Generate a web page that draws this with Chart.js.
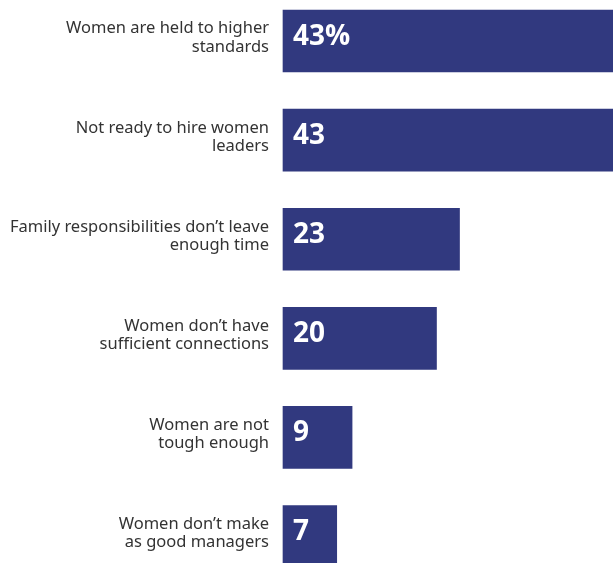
<!DOCTYPE html>
<html>
<head>
<meta charset="utf-8">
<script src="https://cdn.jsdelivr.net/npm/chart.js@4.4.1/dist/chart.umd.min.js"></script>
<style>
  html, body { margin: 0; padding: 0; background: #fff; overflow: hidden; }
  #wrap { position: relative; width: 613px; height: 569px; }
</style>
</head>
<body>
<div id="wrap"><canvas id="chart"></canvas></div>
<script>
const categories = [
  ['Women are held to higher', 'standards'],
  ['Not ready to hire women', 'leaders'],
  ['Family responsibilities don\u2019t leave', 'enough time'],
  ['Women don\u2019t have', 'sufficient connections'],
  ['Women are not', 'tough enough'],
  ['Women don\u2019t make', 'as good managers']
];
const values = [43, 43, 23, 20, 9, 7];
const valueLabels = ['43%', '43', '23', '20', '9', '7'];

const barColor = '#31397f';

// white numbers drawn inside the left end of each bar
const valueLabelPlugin = {
  id: 'valueLabels',
  afterDatasetsDraw(chart) {
    const ctx = chart.ctx;
    const meta = chart.getDatasetMeta(0);
    ctx.save();
    ctx.fillStyle = '#ffffff';
    ctx.font = 'bold 28px "Open Sans", sans-serif';
    ctx.textAlign = 'left';
    ctx.textBaseline = 'middle';
    meta.data.forEach((bar, i) => {
      ctx.fillText(valueLabels[i], bar.base + 10, bar.y - 4);
    });
    ctx.restore();
  }
};

const ctx = document.getElementById('chart').getContext('2d');
new Chart(ctx, {
  type: 'bar',
  data: {
    labels: categories,
    datasets: [{
      data: values,
      backgroundColor: barColor,
      borderWidth: 0,
      barThickness: 62,
      clip: false
    }]
  },
  options: {
    indexAxis: 'y',
    responsive: true,
    maintainAspectRatio: false,
    animation: false,
    layout: { padding: { top: 41, bottom: 20, left: 0, right: 0 } },
    plugins: {
      legend: { display: false },
      tooltip: { enabled: false }
    },
    scales: {
      x: {
        display: false,
        min: 0,
        max: 43
      },
      y: {
        offset: false,
        border: { display: false },
        grid: { display: false, drawTicks: false },
        afterFit(scale) { scale.width = 283; },
        ticks: {
          padding: 14,
          labelOffset: -3,
          color: '#333333',
          font: { family: '"Noto Sans", sans-serif', size: 16.5, lineHeight: 1.12 }
        }
      }
    }
  },
  plugins: [valueLabelPlugin]
});
</script>
</body>
</html>
